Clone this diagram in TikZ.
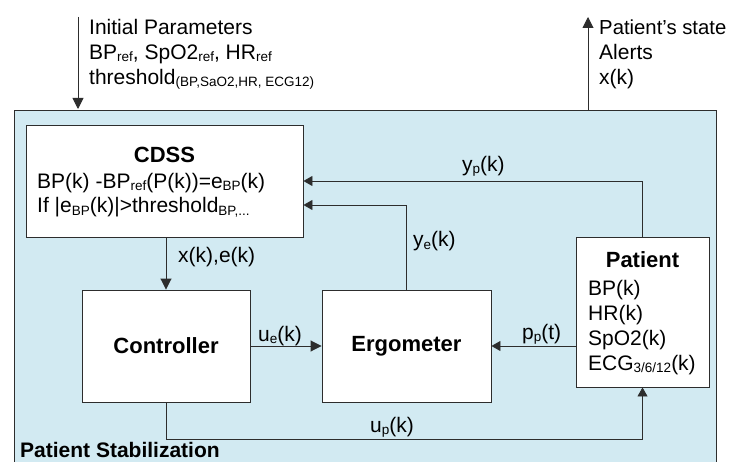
\documentclass[tikz,border=0pt]{standalone}
\usepackage{fontspec}
\setmainfont{Liberation Sans}
\usetikzlibrary{arrows.meta}
\newcommand\lo[1]{\raisebox{-2pt}{\fontsize{13.5}{14}\selectfont #1}}
\definecolor{bgblue}{RGB}{210,234,242}
\definecolor{ln}{RGB}{45,45,45}
\begin{document}
\begin{tikzpicture}[x=1pt,y=-1pt,
  txt/.style={inner sep=0pt, anchor=base west, font=\fontsize{21}{25}\selectfont},
  ttl/.style={inner sep=0pt, anchor=base, font=\fontsize{22}{25}\selectfont\bfseries},
  blk/.style={draw=ln, fill=white, line width=0.9pt, inner sep=0pt, font=\fontsize{22}{25}\selectfont\bfseries},
  wire/.style={draw=ln, line width=0.9pt},
  arr/.style={wire, -{Triangle[length=11pt,width=11pt]}},
  sarr/.style={wire, -{Triangle[length=9pt,width=10pt]}},
]
\clip (0,0) rectangle (730,462);
\fill[white] (0,0) rectangle (730,462);
\draw[fill=bgblue, draw=ln, line width=0.9pt] (14,110) rectangle (716,490);

% blocks
\node[blk, minimum width=277pt, minimum height=112pt] (cdss) at (164.5,181) {};
\node[blk, minimum width=168pt, minimum height=112pt] (ctrl) at (166,346) {Controller};
\node[blk, minimum width=169pt, minimum height=112pt] (erg) at (406.5,346) {Ergometer};
\node[blk, minimum width=133pt, minimum height=150pt] (pat) at (642.5,312) {};

% CDSS text
\node[ttl] (cdsst) at (164.5,163) {CDSS};
\node[txt] (cdss1) at (37,189) {BP(k) -BP\lo{ref}(P(k))=e\lo{BP}(k)};
\node[txt] (cdss2) at (37,213) {If |e\lo{BP}(k)|>threshold\lo{BP,...}};

% Patient text
\node[ttl] (patt) at (642.5,267) {Patient};
\node[txt] (p1) at (588,295) {BP(k)};
\node[txt] (p2) at (588,320) {HR(k)};
\node[txt] (p3) at (588,345) {SpO2(k)};
\node[txt] (p4) at (588,370) {ECG\lo{3/6/12}(k)};

% input / output
\coordinate (inTop) at (78,17);
\coordinate (inBot) at (78,109);
\coordinate (outBot) at (588,110);
\coordinate (outTop) at (588,17);
\draw[arr] (inTop) -- (inBot);
\draw[arr] (outBot) -- (outTop);
\node[txt] (ip1) at (89,35) {Initial Parameters};
\node[txt] (ip2) at (89,60) {BP\lo{ref}, SpO2\lo{ref}, HR\lo{ref}};
\node[txt] (ip3) at (89,85) {threshold\lo{(BP,SaO2,HR, ECG12)}};
\node[txt, font=\fontsize{20.3}{25}\selectfont] (os1) at (599,35) {Patient’s state};
\node[txt] (os2) at (599,60) {Alerts};
\node[txt] (os3) at (599,85) {x(k)};

% connectors
\draw[sarr] (pat.north) |- (cdss.east);
\draw[sarr] (erg.north) |- ([yshift=-24pt]cdss.east);
\draw[arr] (ctrl.north |- cdss.south) -- (ctrl.north);
\draw[arr] (ctrl.east) -- (erg.west);
\draw[sarr] (pat.west |- erg.east) -- (erg.east);
\coordinate (ubot) at (0,439);
\draw[sarr] (ctrl.south) |- (pat.south |- ubot) -- (pat.south);

% labels
\node[txt] (lyp) at (462,172) {y\lo{p}(k)};
\node[txt] (lye) at (413,247) {y\lo{e}(k)};
\node[txt] (lxe) at (178,262) {x(k),e(k)};
\node[txt] (lue) at (258,341) {u\lo{e}(k)};
\node[txt] (lpp) at (522,339) {p\lo{p}(t)};
\node[txt] (lup) at (370,432) {u\lo{p}(k)};
\node[txt, font=\fontsize{21}{25}\selectfont\bfseries] (ps) at (20,457) {Patient Stabilization};
\end{tikzpicture}
\end{document}
